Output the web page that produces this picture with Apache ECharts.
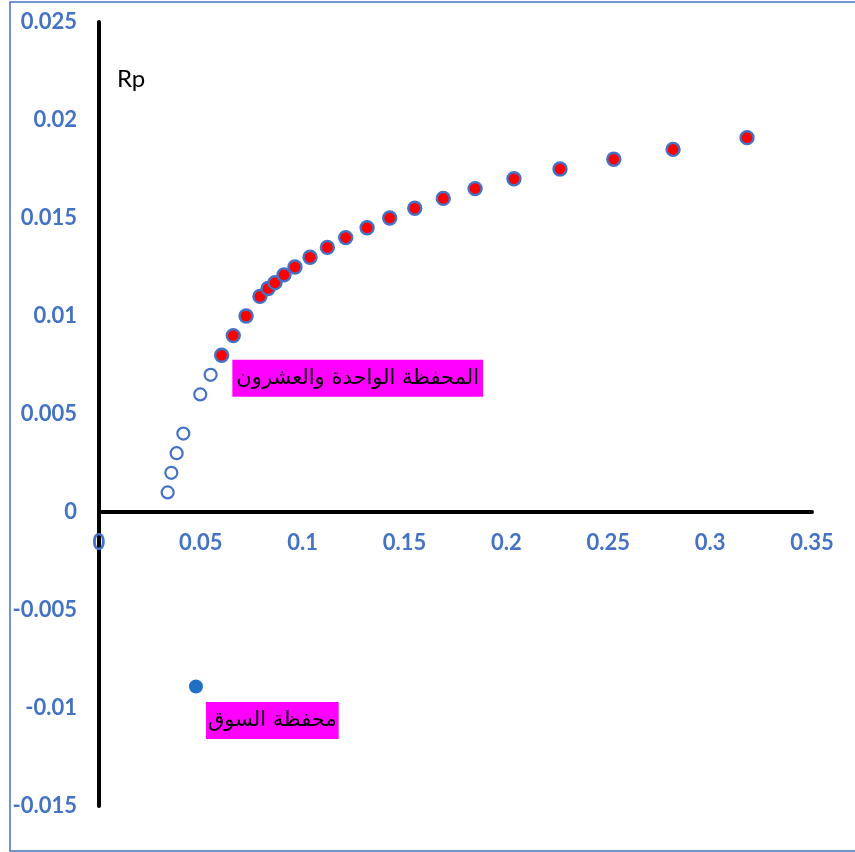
<!DOCTYPE html>
<html>
<head>
<meta charset="utf-8">
<title>Rp</title>
<script src="https://cdn.jsdelivr.net/npm/echarts@6/dist/echarts.min.js"></script>
<style>
  html, body { margin: 0; padding: 0; background: #ffffff; }
  #chart { width: 855px; height: 852px; }
</style>
</head>
<body>
<div id="chart"></div>
<script>
// Risk (x) and return Rp (y) of the portfolios on the frontier
const lowerRisk = [0.0337, 0.0355, 0.0381, 0.0414, 0.0497, 0.0548];
const lowerReturn = [0.001, 0.002, 0.003, 0.004, 0.006, 0.007];

const frontierRisk = [0.0602, 0.0659, 0.0722, 0.0790, 0.0830, 0.0864, 0.0908, 0.0962,
  0.1036, 0.1121, 0.1211, 0.1316, 0.1427, 0.1550, 0.1690, 0.1846, 0.2037, 0.2263,
  0.2527, 0.2818, 0.3181];
const frontierReturn = [0.008, 0.009, 0.010, 0.011, 0.0114, 0.0117, 0.0121, 0.0125,
  0.013, 0.0135, 0.014, 0.0145, 0.015, 0.0155, 0.016, 0.0165, 0.017, 0.0175,
  0.018, 0.0185, 0.0191];

const marketRisk = [0.0476];
const marketReturn = [-0.0089];

const frontierLabel = 'المحفظة الواحدة والعشرون';
const marketLabel = 'محفظة السوق';
const yAxisName = 'Rp';

const xTicks = { min: 0, max: 0.35, interval: 0.05 };
const yTicks = { min: -0.015, max: 0.025, interval: 0.005 };

const tickColor = '#4472C4';
const tickFont = { color: tickColor, fontFamily: 'Lato', fontWeight: 'bold', fontSize: 22 };

function pairs(xs, ys) { return xs.map((x, i) => [x, ys[i]]); }

const gridBox = { left: 99, right: 43, top: 22, bottom: 46, width: 855 - 99 - 43, height: 852 - 22 - 46 };
// shift the x axis up from the grid bottom onto the y = 0 line, labels included
const xAxisShift = -gridBox.height * (0 - yTicks.min) / (yTicks.max - yTicks.min);

const tagStyle = {
  show: true,
  position: 'right',
  color: '#000000',
  fontFamily: 'DejaVu Sans',
  fontSize: 21,
  lineHeight: 23,
  backgroundColor: '#FF00FF'
};

const frontierData = pairs(frontierRisk, frontierReturn).map((p, i) => {
  if (i !== 0) return p;
  return {
    value: p,
    label: Object.assign({}, tagStyle, {
      distance: 3, offset: [0, 23], padding: [8, 4, 6, 4],
      formatter: frontierLabel
    })
  };
});

const marketData = pairs(marketRisk, marketReturn).map(p => ({
  value: p,
  label: Object.assign({}, tagStyle, {
    distance: 3, offset: [0, 34], padding: [8, 2, 6, 2],
    formatter: marketLabel
  })
}));

const chart = echarts.init(document.getElementById('chart'), null, { renderer: 'canvas' });

chart.setOption({
  backgroundColor: '#ffffff',
  animation: false,
  grid: { left: gridBox.left, right: gridBox.right, top: gridBox.top, bottom: gridBox.bottom, containLabel: false },
  xAxis: {
    type: 'value',
    position: 'bottom',
    offset: xAxisShift,
    min: xTicks.min, max: xTicks.max, interval: xTicks.interval,
    axisLine: { show: true, onZero: false, lineStyle: { color: '#000000', width: 4 } },
    axisTick: { show: false },
    splitLine: { show: false },
    axisLabel: Object.assign({ margin: 20 }, tickFont)
  },
  yAxis: {
    type: 'value',
    min: yTicks.min, max: yTicks.max, interval: yTicks.interval,
    name: yAxisName,
    nameLocation: 'end',
    nameGap: -57,
    nameTextStyle: {
      color: '#000000', fontFamily: 'Lato', fontSize: 24,
      align: 'left', verticalAlign: 'middle', padding: [0, 0, 0, 18]
    },
    axisLine: { show: true, onZero: false, lineStyle: { color: '#000000', width: 4 } },
    axisTick: { show: false },
    splitLine: { show: false },
    axisLabel: Object.assign({ margin: 22 }, tickFont)
  },
  graphic: [{
    type: 'rect',
    shape: { x: 10, y: 2, width: 860, height: 849 },
    style: { fill: null, stroke: '#4472C4', lineWidth: 1.5 },
    silent: true,
    z: 100
  }],
  series: [
    {
      name: 'lower',
      type: 'scatter',
      symbol: 'circle',
      symbolSize: 12,
      itemStyle: { color: '#ffffff', borderColor: '#4472C4', borderWidth: 2.2, opacity: 1 },
      data: pairs(lowerRisk, lowerReturn)
    },
    {
      name: 'frontier',
      type: 'scatter',
      symbol: 'circle',
      symbolSize: 13,
      itemStyle: { color: '#FF0000', borderColor: '#4472C4', borderWidth: 2.4, opacity: 1 },
      data: frontierData
    },
    {
      name: 'market',
      type: 'scatter',
      symbol: 'circle',
      symbolSize: 14,
      itemStyle: { color: '#1F6FC5', opacity: 1 },
      data: marketData
    }
  ]
});
</script>
</body>
</html>
